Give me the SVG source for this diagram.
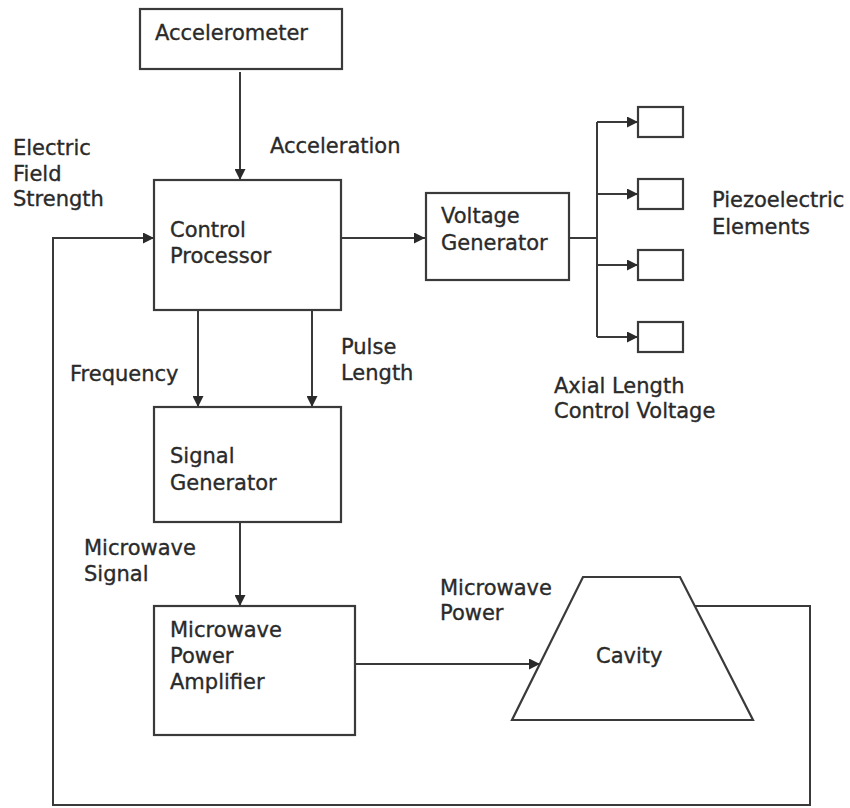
<svg xmlns="http://www.w3.org/2000/svg" width="850" height="808" viewBox="0 0 850 808">
<style>
.box{fill:#fff;stroke:#3a3a3a;stroke-width:2.2}
.ln{fill:none;stroke:#3a3a3a;stroke-width:2}
text{font-family:"DejaVu Sans",Verdana,sans-serif;font-size:21px;fill:#2a2a2a;stroke:#2a2a2a;stroke-width:0.35}
</style>
<defs>
<marker id="ah" viewBox="0 0 10 10" refX="10" refY="5" markerWidth="5.5" markerHeight="5.5" orient="auto" markerUnits="strokeWidth">
<path d="M0,0 L10,5 L0,10 z" fill="#2a2a2a"/>
</marker>
</defs>
<rect width="850" height="808" fill="#fff"/>
<g id="connectors">
<line class="ln" x1="240" y1="72" x2="240" y2="180" marker-end="url(#ah)"/>
<line class="ln" x1="341" y1="238" x2="425" y2="238" marker-end="url(#ah)"/>
<polyline class="ln" points="569,238 597,238"/>
<line class="ln" x1="597" y1="122" x2="597" y2="337"/>
<line class="ln" x1="597" y1="122" x2="638" y2="122" marker-end="url(#ah)"/>
<line class="ln" x1="597" y1="194" x2="638" y2="194" marker-end="url(#ah)"/>
<line class="ln" x1="597" y1="265" x2="638" y2="265" marker-end="url(#ah)"/>
<line class="ln" x1="597" y1="337" x2="638" y2="337" marker-end="url(#ah)"/>
<line class="ln" x1="198" y1="310" x2="198" y2="407" marker-end="url(#ah)"/>
<line class="ln" x1="312" y1="310" x2="312" y2="407" marker-end="url(#ah)"/>
<line class="ln" x1="240" y1="522" x2="240" y2="606" marker-end="url(#ah)"/>
<line class="ln" x1="355" y1="664" x2="540" y2="664" marker-end="url(#ah)"/>
<polyline class="ln" points="695,606 810,606 810,805 53,805 53,238 154,238" marker-end="url(#ah)"/>
</g>
<g id="accelerometer">
<rect class="box" x="140" y="9" width="202" height="60"/>
<text x="155" y="40">Accelerometer</text>
</g>
<g id="control-processor">
<rect class="box" x="154" y="180" width="187" height="130"/>
<text x="170" y="237">Control</text>
<text x="170" y="263">Processor</text>
</g>
<g id="voltage-generator">
<rect class="box" x="426" y="193" width="143" height="87"/>
<text x="441" y="223">Voltage</text>
<text x="441" y="250">Generator</text>
</g>
<g id="piezo-elements">
<rect class="box" x="638" y="107" width="45" height="30"/>
<rect class="box" x="638" y="179" width="45" height="30"/>
<rect class="box" x="638" y="250" width="45" height="30"/>
<rect class="box" x="638" y="322" width="45" height="30"/>
</g>
<g id="signal-generator">
<rect class="box" x="154" y="407" width="187" height="115"/>
<text x="170" y="463">Signal</text>
<text x="170" y="490">Generator</text>
</g>
<g id="amplifier">
<rect class="box" x="154" y="606" width="201" height="129"/>
<text x="170" y="637">Microwave</text>
<text x="170" y="663">Power</text>
<text x="170" y="689">Amplifier</text>
</g>
<g id="cavity">
<polygon class="box" points="583,577 680,577 753,720 512,720"/>
<text x="596" y="663">Cavity</text>
</g>
<g id="labels">
<text x="270" y="153">Acceleration</text>
<text x="13" y="155">Electric</text>
<text x="13" y="181">Field</text>
<text x="13" y="206">Strength</text>
<text x="712" y="207">Piezoelectric</text>
<text x="712" y="234">Elements</text>
<text x="554" y="393">Axial Length</text>
<text x="554" y="418">Control Voltage</text>
<text x="70" y="381">Frequency</text>
<text x="341" y="354">Pulse</text>
<text x="341" y="380">Length</text>
<text x="84" y="555">Microwave</text>
<text x="84" y="581">Signal</text>
<text x="440" y="595">Microwave</text>
<text x="440" y="620">Power</text>
</g>
</svg>
